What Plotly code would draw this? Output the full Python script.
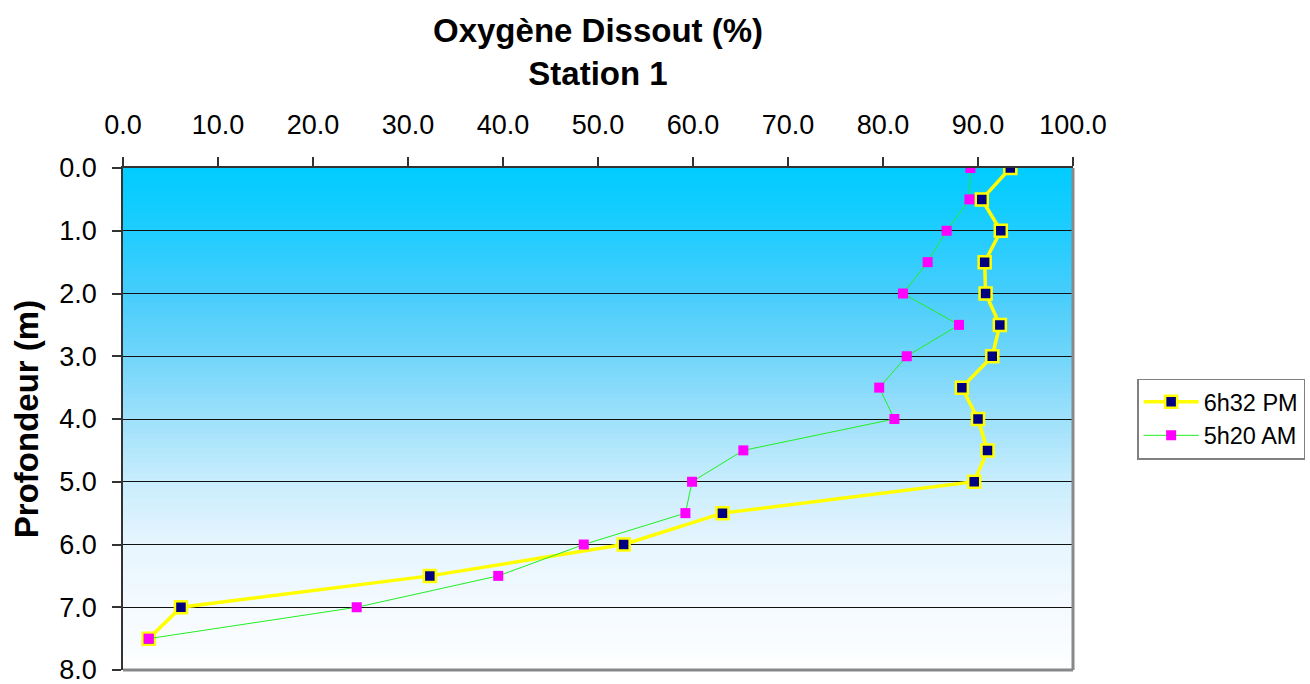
import plotly.graph_objects as go

depth = [0.0, 0.5, 1.0, 1.5, 2.0, 2.5, 3.0, 3.5, 4.0, 4.5, 5.0, 5.5, 6.0, 6.5, 7.0, 7.5]
pm_6h32 = [93.4, 90.4, 92.4, 90.7, 90.8, 92.3, 91.5, 88.3, 90.0, 91.0, 89.6, 63.1, 52.7, 32.3, 6.1, 2.7]
am_5h20 = [89.2, 89.1, 86.7, 84.7, 82.1, 88.0, 82.5, 79.6, 81.2, 65.3, 59.9, 59.2, 48.5, 39.5, 24.6, 2.7]

title_lines = ["Oxygène Dissout (%)", "Station 1"]
y_title = "Profondeur (m)"
series_names = ["6h32 PM", "5h20 AM"]

FONT = "Liberation Sans, Arial, sans-serif"

fig = go.Figure()
fig.add_trace(go.Scatter(
    x=pm_6h32, y=depth, name=series_names[0], mode="lines+markers",
    line=dict(color="#FFFF00", width=3.5),
    marker=dict(symbol="square", size=12, color="#000080",
                line=dict(color="#FFFF00", width=2.5)),
))
fig.add_trace(go.Scatter(
    x=am_5h20, y=depth, name=series_names[1], mode="lines+markers",
    line=dict(color="#22EE22", width=1),
    marker=dict(symbol="square", size=10, color="#FF00FF",
                line=dict(color="#FF00FF", width=0)),
))

# vertical gradient background (cyan -> white)
stops = [(0.0, (0, 204, 255)), (0.125, (30, 205, 255)), (0.25, (70, 205, 252)),
         (0.375, (112, 213, 250)), (0.5, (158, 224, 251)), (0.625, (200, 237, 253)),
         (0.75, (230, 245, 254)), (0.875, (244, 250, 255)), (1.0, (253, 254, 255))]

def col_at(t):
    for (t0, c0), (t1, c1) in zip(stops[:-1], stops[1:]):
        if t0 <= t <= t1:
            f = (t - t0) / (t1 - t0)
            return "rgb(%d,%d,%d)" % tuple(round(a + (b - a) * f) for a, b in zip(c0, c1))
    return "rgb(%d,%d,%d)" % stops[-1][1]

shapes = []
N = 100
for i in range(N):
    t0 = i / N
    t1 = (i + 1) / N
    shapes.append(dict(type="rect", xref="x domain", yref="y domain",
                       x0=0, x1=1, y0=1 - t1, y1=1 - t0 + 0.002,
                       fillcolor=col_at((t0 + t1) / 2), line=dict(width=0),
                       layer="below"))
# gray right/bottom border
shapes.append(dict(type="line", xref="x domain", yref="y domain", x0=0, x1=1, y0=0, y1=0,
                   line=dict(color="#888888", width=3), layer="above"))
shapes.append(dict(type="line", xref="x domain", yref="y domain", x0=1, x1=1, y0=0, y1=1,
                   line=dict(color="#888888", width=3), layer="above"))

fig.update_layout(
    width=1310, height=684,
    margin=dict(l=123, r=237, t=168, b=14, autoexpand=False),
    paper_bgcolor="white", plot_bgcolor="white",
    font=dict(family=FONT, color="black"),
    annotations=[dict(text="<b>" + title_lines[0] + "</b><br><b>" + title_lines[1] + "</b>",
                      xref="paper", yref="paper", x=0.5, y=1.232,
                      xanchor="center", yanchor="middle", showarrow=False,
                      font=dict(size=33, family=FONT, color="black"))],
    shapes=shapes,
    showlegend=True,
    legend=dict(x=1.0675, xanchor="left", y=0.5, yanchor="middle",
                bgcolor="white", bordercolor="#808080", borderwidth=1.5,
                font=dict(size=23.5, family=FONT, color="black"),
                itemwidth=55, tracegroupgap=0),
    xaxis=dict(side="top", range=[0, 100], dtick=10, tick0=0, tickformat=".1f",
               ticks="outside", ticklen=9, tickcolor="#333333", tickwidth=1.5,
               showline=True, linecolor="#333333", linewidth=1.5,
               showgrid=False, zeroline=False, ticklabelstandoff=12,
               ticklabeloverflow="allow",
               tickfont=dict(size=27, family=FONT, color="black")),
    yaxis=dict(range=[8, 0], dtick=1, tick0=0, tickformat=".1f",
               tickmode="array", tickvals=[0, 1, 2, 3, 4, 5, 6, 7, 8],
               ticktext=["0.0", "1.0", "2.0", "3.0", "4.0", "5.0", "6.0", "7.0", "8.0"],
               ticks="outside", ticklen=9, tickcolor="#333333", tickwidth=1.5,
               showline=True, linecolor="#333333", linewidth=1.5,
               showgrid=True, gridcolor="#111111", gridwidth=1.2, zeroline=False,
               ticklabelstandoff=10, ticklabeloverflow="allow",
               title=dict(text="<b>" + y_title + "</b>", standoff=11,
                          font=dict(size=33, family=FONT, color="black")),
               tickfont=dict(size=27, family=FONT, color="black")),
)

fig.write_html("out.html", config={"displayModeBar": False},
               post_script="document.body.style.margin='0';document.body.style.overflow='hidden';")
